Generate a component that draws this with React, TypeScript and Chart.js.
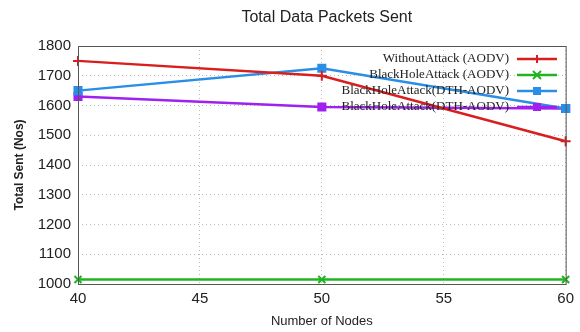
import React, { useEffect, useRef } from "react";
import { Chart, registerables } from "chart.js";

Chart.register(...registerables);

const nodes = [40, 50, 60];
const withoutAttack = [1750, 1700, 1480];
const blackHoleAttack = [1015, 1015, 1015];
const blackHoleDth = [1650, 1725, 1590];
const blackHoleDthPurple = [1630, 1595, 1590];
const seriesLabels = [
  "WithoutAttack (AODV)",
  "BlackHoleAttack (AODV)",
  "BlackHoleAttack(DTH-AODV)",
  "BlackHoleAttack(DTH-AODV)",
];
const seriesColors = ["#d81e1e", "#21b321", "#2a8ee6", "#a020f0"];
const seriesMarkers = ["cross", "crossRot", "rect", "rect"];
const xTicks = [40, 45, 50, 55, 60];

const chartTitle = "Total Data Packets Sent";
const yTitle = "Total Sent (Nos)";
const xTitle = "Number of Nodes";

const textPlugin = {
  id: "textPlugin",
  afterDraw(chart: any) {
    const { ctx, chartArea } = chart;
    ctx.save();
    // frame
    ctx.strokeStyle = "#555";
    ctx.lineWidth = 1;
    ctx.strokeRect(chartArea.left + 0.5, chartArea.top + 0.5, chartArea.right - chartArea.left, chartArea.bottom - chartArea.top);

    ctx.fillStyle = "#222";
    ctx.font = "16px 'Liberation Sans', Arial, sans-serif";
    ctx.textAlign = "center";
    ctx.textBaseline = "middle";
    ctx.fillText(chartTitle, (chartArea.left + chartArea.right) / 2 + 5, 18);

    ctx.font = "13px 'Liberation Sans', Arial, sans-serif";
    ctx.fillText(xTitle, (chartArea.left + chartArea.right) / 2, 321);

    ctx.font = "bold 12px 'Liberation Sans', Arial, sans-serif";
    ctx.translate(20, (chartArea.top + chartArea.bottom) / 2);
    ctx.rotate(-Math.PI / 2);
    ctx.fillText(yTitle, 0, 0);
    ctx.restore();

    // legend
    ctx.save();
    ctx.font = "13px 'Liberation Serif', 'Times New Roman', serif";
    ctx.textBaseline = "middle";
    ctx.textAlign = "right";
    const ds = chart.data.datasets;
    for (let i = 0; i < ds.length; i++) {
      const y = 59 + i * 16;
      ctx.fillStyle = "#222";
      ctx.fillText(seriesLabels[i], 509, y);
      ctx.strokeStyle = seriesColors[i];
      ctx.lineWidth = 2.5;
      ctx.beginPath();
      ctx.moveTo(517, y);
      ctx.lineTo(557, y);
      ctx.stroke();
      const m = seriesMarkers[i];
      ctx.fillStyle = seriesColors[i];
      const cx = 537;
      if (m === "rect") {
        ctx.fillRect(cx - 4, y - 4, 8, 8);
      } else if (m === "cross") {
        ctx.lineWidth = 2;
        ctx.beginPath();
        ctx.moveTo(cx, y - 4);
        ctx.lineTo(cx, y + 4);
        ctx.stroke();
      } else {
        ctx.lineWidth = 2;
        ctx.beginPath();
        ctx.moveTo(cx - 4, y - 4);
        ctx.lineTo(cx + 4, y + 4);
        ctx.moveTo(cx + 4, y - 4);
        ctx.lineTo(cx - 4, y + 4);
        ctx.stroke();
      }
    }
    ctx.restore();
  },
};

export default function App() {
  const ref = useRef<HTMLCanvasElement>(null);
  useEffect(() => {
    document.body.style.margin = "0";
    const mk = (i: number, values: number[]) => ({
      label: seriesLabels[i],
      data: nodes.map((n, k) => ({ x: n, y: values[k] })),
      borderColor: seriesColors[i],
      backgroundColor: seriesColors[i],
      borderWidth: 2.5,
      pointStyle: seriesMarkers[i],
      pointRadius: 5,
      pointBorderWidth: 2,
      pointBorderColor: seriesColors[i],
      tension: 0,
      clip: false,
    });
    const chart = new Chart(ref.current!, {
      type: "line",
      data: {
        datasets: [
          mk(0, withoutAttack),
          mk(1, blackHoleAttack),
          mk(2, blackHoleDth),
          mk(3, blackHoleDthPurple),
        ],
      },
      options: {
        animation: false,
        responsive: false,
        layout: { padding: { top: 46, right: 10, left: 0, bottom: 0 } },
        plugins: { legend: { display: false }, tooltip: { enabled: false } },
        scales: {
          x: {
            type: "linear",
            min: 40,
            max: 60,
            afterBuildTicks: (s: any) => {
              s.ticks = xTicks.map((v) => ({ value: v }));
            },
            afterFit: (s: any) => {
              s.height = 48;
            },
            grid: { color: "#bbb", drawTicks: false },
            border: { display: false, dash: [1, 3] },
            ticks: {
              color: "#222",
              padding: 6,
              font: { size: 15, family: "'Liberation Sans', Arial, sans-serif" },
            },
          },
          y: {
            min: 1000,
            max: 1800,
            afterFit: (s: any) => {
              s.width = 78;
            },
            grid: { color: "#bbb", drawTicks: false },
            border: { display: false, dash: [1, 3] },
            ticks: {
              stepSize: 100,
              color: "#222",
              padding: 7,
              callback: (v: any) => String(v),
              font: { size: 15, family: "'Liberation Sans', Arial, sans-serif" },
            },
          },
        },
      } as any,
      plugins: [textPlugin],
    });
    return () => chart.destroy();
  }, []);
  return (
    <div style={{ position: "absolute", left: 0, top: 0, width: 580, height: 332 }}>
      <canvas ref={ref} width={580} height={332} />
    </div>
  );
}
